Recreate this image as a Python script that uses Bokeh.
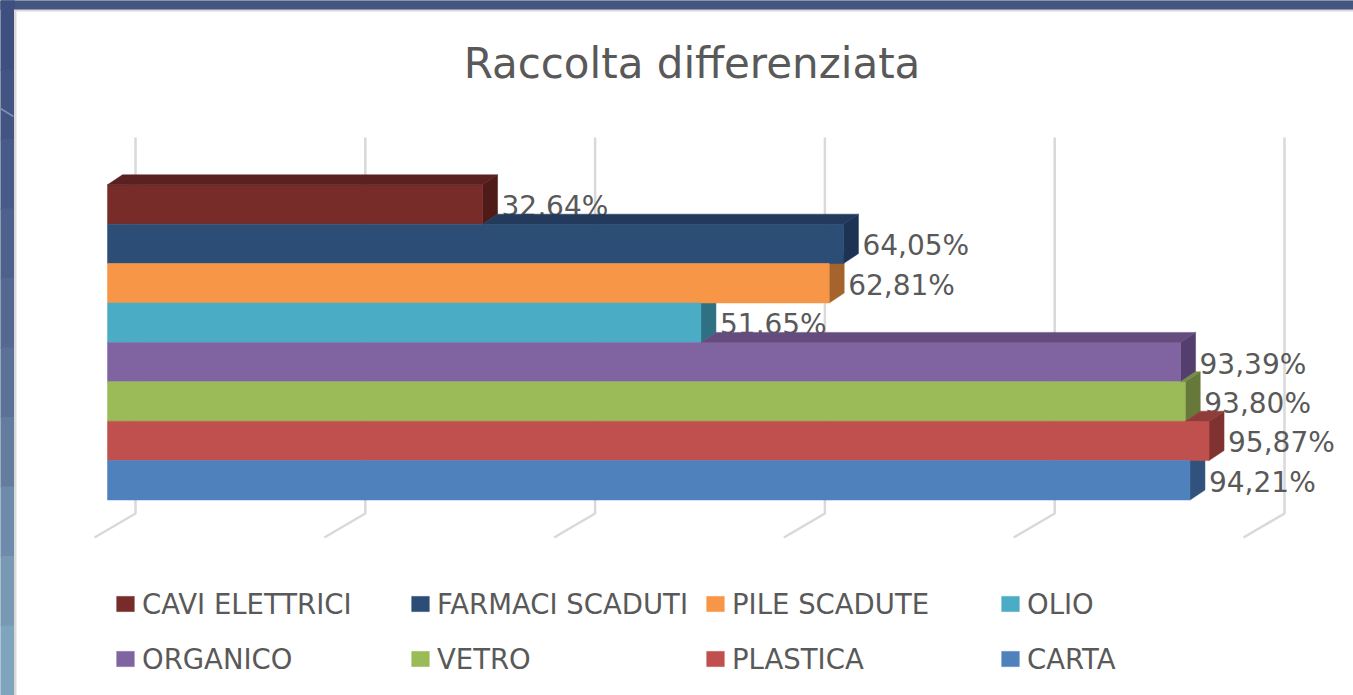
from bokeh.plotting import figure
from bokeh.models import Legend, LegendItem, Label
from bokeh.core.properties import value
from bokeh.embed import file_html
from bokeh.resources import INLINE

categories = ["CAVI ELETTRICI", "FARMACI SCADUTI", "PILE SCADUTE", "OLIO",
              "ORGANICO", "VETRO", "PLASTICA", "CARTA"]
percentages = [32.64, 64.05, 62.81, 51.65, 93.39, 93.80, 95.87, 94.21]
front_colors = ["#772C2A", "#2C4D75", "#F79646", "#4BACC6", "#8064A2", "#9BBB59", "#C0504D", "#4F81BD"]
top_colors = ["#5A2120", "#233A5C", "#BA7034", "#387F93", "#644C7E", "#748C42", "#903C39", "#3B618E"]
side_colors = ["#4F1B19", "#1C3354", "#A5642E", "#2F7082", "#533E6E", "#66793A", "#7F322F", "#31527C"]
grid_ticks = [0, 20, 40, 60, 80, 100]
band_colors = ["#3F5080", "#435482", "#485A87", "#4E618C", "#546891", "#5B7197", "#647D9F", "#6E8BAB", "#7898B4", "#7FA4BC"]

W, H = 1353, 695
PX_PER_UNIT = 11.49      # horizontal pixels per percentage point
X0_PX = 107              # where 0 % falls on the bars' front face
BAR_PX = 39.4            # bar thickness
BASE_PX = 499.5          # bottom edge of the lowest bar, from the top
DX, DY = 15 / PX_PER_UNIT, 10 / BAR_PX   # bar depth


def px_x(px):
    return (px - X0_PX) / PX_PER_UNIT


def px_y(px):
    return (BASE_PX - px) / BAR_PX


p = figure(width=W, height=H, x_range=(px_x(0), px_x(W)), y_range=(px_y(H), px_y(0)),
           output_backend="svg", toolbar_location=None, min_border=0,
           x_axis_location=None, y_axis_location=None, outline_line_color=None,
           background_fill_color="white", border_fill_color="white")
p.grid.visible = False

# slide behind the chart
p.quad(left=px_x(0), right=px_x(W), top=px_y(0), bottom=px_y(9), color="#44557F")
n = len(band_colors)
p.quad(left=[px_x(0)] * n, right=[px_x(14)] * n,
       top=[px_y(H * i / n) for i in range(n)], bottom=[px_y(H * (i + 1) / n) for i in range(n)],
       color=band_colors)
p.line([px_x(0), px_x(13)], [px_y(108), px_y(116)], line_color="#7F90B0", line_width=1.5)
p.quad(left=px_x(13.5), right=px_x(W), top=px_y(9), bottom=px_y(H), fill_color="#D9D9D9", line_color=None)
p.quad(left=px_x(16), right=px_x(W), top=px_y(11), bottom=px_y(H), fill_color="white", line_color=None)

# back wall and floor gridlines
for t in grid_ticks:
    back = t + px_x(135)
    front = t + px_x(94)
    p.line([back, back, front], [px_y(137), px_y(513), px_y(537)], line_color="#D9D9D9", line_width=2.5)

count = len(categories)
rows = [count - 1 - i for i in range(count)]

# side faces, lowest bar first: each bar hides the side of the bar below it
for i in reversed(range(count)):
    val, low = percentages[i], rows[i]
    p.patch([val, val + DX, val + DX, val], [low, low + DY, low + 1 + DY, low + 1],
            fill_color=side_colors[i], line_color=side_colors[i], line_width=0.5)

# front faces
items = []
for i in range(count):
    bar = p.quad(left=0, right=percentages[i], bottom=rows[i], top=rows[i] + 1,
                 fill_color=front_colors[i], line_color=front_colors[i], line_width=0.5)
    items.append(LegendItem(label=categories[i], renderers=[bar]))

# data labels
for i in range(count):
    p.text([percentages[i]], [rows[i] + 0.5], text=[f"{percentages[i]:.2f}".replace(".", ",") + "%"],
           text_font=value("DejaVu Sans"), text_font_size="28px", text_color="#595959",
           text_align="left", text_baseline="middle", x_offset=19, y_offset=2)

# top faces come last, they cut the label of the bar above; only the part past the bar above shows
for i in range(count):
    val, high = percentages[i], rows[i] + 1
    hidden = percentages[i - 1] if i else 0
    if val > hidden:
        p.patch([hidden, val, val + DX, hidden + DX], [high, high, high + DY, high + DY],
                fill_color=top_colors[i], line_color=top_colors[i], line_width=0.5)

p.add_layout(Label(x=W / 2 + 15, y=H - 63, x_units="screen", y_units="screen",
                   text="Raccolta differenziata", text_align="center", text_baseline="middle",
                   text_font="DejaVu Sans", text_font_size="42px", text_color="#595959"))

legend = Legend(items=items, ncols=4, location=(114, 15), orientation="horizontal",
                glyph_width=22, glyph_height=19, label_standoff=6, label_width=255, label_height=43,
                spacing=12, padding=0, margin=0, border_line_color=None, background_fill_alpha=0,
                label_text_font="DejaVu Sans", label_text_font_size="27.5px", label_text_color="#595959")
p.add_layout(legend, "center")

open("out.html", "w").write(file_html(p, INLINE))
